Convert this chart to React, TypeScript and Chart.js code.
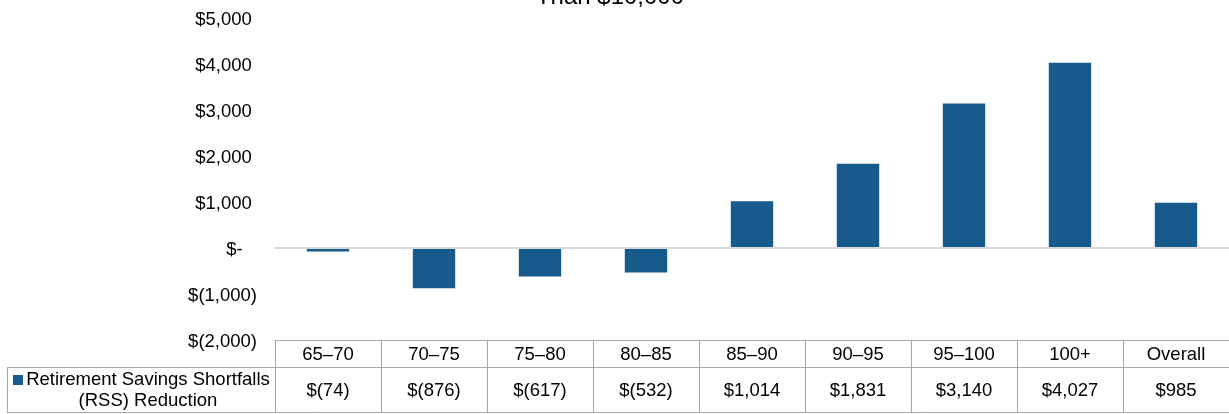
import React, { useEffect, useRef } from "react";
import { Chart, registerables } from "chart.js";

Chart.register(...registerables);

const categories = ["65–70", "70–75", "75–80", "80–85", "85–90", "90–95", "95–100", "100+", "Overall"];
const rssReduction = [-74, -876, -617, -532, 1014, 1831, 3140, 4027, 985];
const tableLabels = ["$(74)", "$(876)", "$(617)", "$(532)", "$1,014", "$1,831", "$3,140", "$4,027", "$985"];
const seriesName = "Retirement Savings Shortfalls (RSS) Reduction";
const seriesLines = ["Retirement Savings Shortfalls", "(RSS) Reduction"];
const titleText = "Than $10,000";

const FONT = "Arial, 'Liberation Sans', sans-serif";
const BAR = "#175b8c";

function fmtTick(v: number): string {
  if (v === 0) return "$-\u2002 ";
  const s = Math.abs(v).toLocaleString("en-US");
  return v < 0 ? `$(${s})` : `$${s} `;
}

const tablePlugin = {
  id: "dataTable",
  afterDraw(chart: any) {
    const { ctx, chartArea } = chart;
    const x = chart.scales.x;
    const top = chartArea.bottom;
    const mid = top + 27;
    const bottom = top + 73;
    const left = chartArea.left;
    const right = chartArea.right;
    const legendLeft = 7;
    ctx.save();
    ctx.strokeStyle = "#a6a6a6";
    ctx.lineWidth = 1;
    ctx.beginPath();
    ctx.moveTo(left, top + 0.5);
    ctx.lineTo(right, top + 0.5);
    ctx.moveTo(legendLeft, mid + 0.5);
    ctx.lineTo(right, mid + 0.5);
    ctx.moveTo(legendLeft, bottom - 0.5);
    ctx.lineTo(right, bottom - 0.5);
    ctx.moveTo(legendLeft + 0.5, mid);
    ctx.lineTo(legendLeft + 0.5, bottom);
    const n = categories.length;
    const w = (right - left) / n;
    for (let i = 0; i <= n; i++) {
      const px = Math.round(left + i * w) + 0.5;
      ctx.moveTo(px, top);
      ctx.lineTo(px, bottom);
    }
    ctx.stroke();

    ctx.fillStyle = "#000";
    ctx.font = `18.5px ${FONT}`;
    ctx.textAlign = "center";
    ctx.textBaseline = "middle";
    categories.forEach((c, i) => {
      const cx = x.getPixelForValue(i);
      ctx.fillText(c, cx, (top + mid) / 2 + 1);
      ctx.fillText(tableLabels[i], cx, (mid + bottom) / 2 + 1);
    });
    // legend cell
    ctx.fillText(seriesLines[0], 148, mid + 13);
    ctx.fillText(seriesLines[1], 148, mid + 34);
    ctx.fillStyle = BAR;
    ctx.fillRect(13, mid + 8, 10, 10);
    ctx.restore();
  },
};

const titlePlugin = {
  id: "cutTitle",
  afterDraw(chart: any) {
    const { ctx } = chart;
    ctx.save();
    ctx.fillStyle = "#000";
    ctx.font = `24px ${FONT}`;
    ctx.textAlign = "center";
    ctx.textBaseline = "alphabetic";
    ctx.fillText(titleText, 610, 4);
    ctx.restore();
  },
};

export default function App() {
  const ref = useRef<HTMLCanvasElement>(null);
  useEffect(() => {
    document.body.style.margin = "0";
    const chart = new Chart(ref.current!, {
      type: "bar",
      data: {
        labels: categories,
        datasets: [
          {
            label: seriesName,
            data: rssReduction,
            backgroundColor: BAR,
            borderWidth: 0,
            categoryPercentage: 1,
            barPercentage: 0.4,
          },
        ],
      },
      options: {
        animation: false,
        responsive: false,
        maintainAspectRatio: false,
        layout: { padding: { top: 18, bottom: 74, left: 0, right: 0 } },
        plugins: { legend: { display: false }, tooltip: { enabled: false }, title: { display: false } },
        scales: {
          x: { display: false },
          y: {
            min: -2000,
            max: 5000,
            border: { display: false },
            afterFit: (s: any) => {
              s.width = 275;
              s.paddingTop = 0;
              s.paddingBottom = 0;
            },
            grid: {
              drawTicks: false,
              lineWidth: 2,
              color: (c: any) => (c.tick && c.tick.value === 0 ? "#d9d9d9" : "rgba(0,0,0,0)"),
            },
            ticks: {
              stepSize: 1000,
              padding: 18,
              labelOffset: 1.5,
              color: "#000",
              font: { family: FONT, size: 18.5 },
              callback: (v: any) => fmtTick(Number(v)),
            },
          },
        },
      },
      plugins: [tablePlugin, titlePlugin],
    });
    return () => chart.destroy();
  }, []);
  return (
    <div style={{ position: "absolute", left: 0, top: 0, width: 1229, height: 414 }}>
      <canvas ref={ref} width={1229} height={414} style={{ width: 1229, height: 414 }} />
    </div>
  );
}
